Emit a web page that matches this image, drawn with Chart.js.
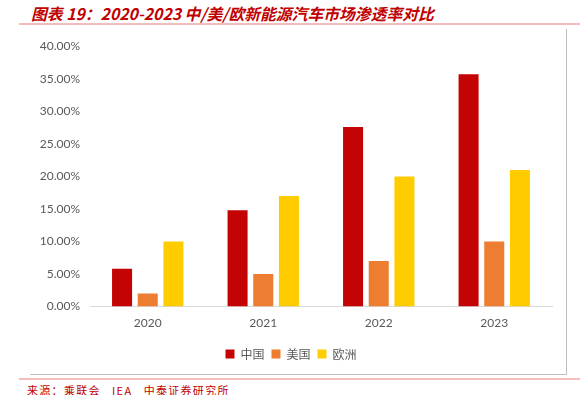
<!DOCTYPE html>
<html>
<head>
<meta charset="utf-8">
<script src="https://cdn.jsdelivr.net/npm/chart.js@4/dist/chart.umd.min.js"></script>
<style>
    body { margin: 0; background: #fff; }
    .page { position: relative; width: 587px; height: 395px; overflow: hidden; background: #fff; }
    .title {
        position: absolute; left: 31px; top: 2px;
        font-family: "Noto Sans CJK SC", sans-serif; font-size: 15.8px; font-weight: bold; font-style: italic;
        color: #c00000; white-space: nowrap;
    }
    .rule { position: absolute; left: 19px; width: 561px; height: 2px; background: #f4bcbc; }
    .box {
        position: absolute; left: 30px; top: 29px; width: 537px; height: 346px;
        border-right: 1px solid #bfbfbf; border-bottom: 1px solid #bfbfbf; box-sizing: border-box;
    }
    .box canvas { position: absolute; left: 0; top: 0; }
    .source {
        position: absolute; left: 27px; top: 382px;
        font-family: "Noto Sans CJK SC", sans-serif; font-size: 11px; color: #c00000; white-space: nowrap;
        letter-spacing: 1.3px;
    }
</style>
</head>
<body>
<div class="page">
    <div class="title">图表 19：2020-2023 中/美/欧新能源汽车市场渗透率对比</div>
    <div class="rule" style="top: 23px;"></div>
    <div class="box">
        <canvas id="penetrationChart" width="537" height="346"></canvas>
    </div>
    <div class="rule" style="top: 378px;"></div>
    <div class="source">来源：乘联会&nbsp;&nbsp;&nbsp;IEA&nbsp;&nbsp;&nbsp;中泰证券研究所</div>
</div>
<script>
// years on the x axis
const years = ["2020", "2021", "2022", "2023"];

// penetration rate of new energy vehicles, in %
const chinaRate = [5.8, 14.8, 27.6, 35.7];
const usRate = [2.0, 5.0, 7.0, 10.0];
const europeRate = [10.0, 17.0, 20.0, 21.0];

const seriesNames = ["中国", "美国", "欧洲"];
const seriesColors = ["#c40404", "#ed7d31", "#ffcc00"];

document.addEventListener("DOMContentLoaded", function () {
    const ctx = document.getElementById("penetrationChart").getContext("2d");
    const values = [chinaRate, usRate, europeRate];

    new Chart(ctx, {
        type: "bar",
        data: {
            labels: years,
            datasets: seriesNames.map((name, i) => ({
                label: name,
                data: values[i],
                backgroundColor: seriesColors[i],
                borderWidth: 0,
                categoryPercentage: 0.667,
                barPercentage: 0.78
            }))
        },
        options: {
            responsive: false,
            animation: false,
            layout: { padding: { top: 16, right: 15, bottom: 5, left: 0 } },
            plugins: {
                tooltip: { enabled: false },
                legend: {
                    position: "bottom",
                    labels: {
                        boxWidth: 9,
                        boxHeight: 9,
                        padding: 7,
                        color: "#595959",
                        font: { family: "'Noto Sans CJK SC', sans-serif", size: 12 }
                    }
                }
            },
            scales: {
                x: {
                    grid: { display: false, drawTicks: false },
                    border: { display: true, color: "#d9d9d9", width: 1 },
                    // leave some room between the year labels and the legend
                    afterFit: function (scale) { scale.height += 2; },
                    ticks: {
                        padding: 9,
                        color: "#595959",
                        font: { family: "Lato, sans-serif", size: 12 }
                    }
                },
                y: {
                    min: 0,
                    max: 40,
                    grid: { display: false, drawTicks: false },
                    border: { display: false },
                    afterFit: function (scale) { scale.width = 60; },
                    ticks: {
                        stepSize: 5,
                        padding: 10,
                        color: "#595959",
                        font: { family: "Lato, sans-serif", size: 12 },
                        callback: function (value) { return value.toFixed(2) + "%"; }
                    }
                }
            }
        }
    });
});
</script>
</body>
</html>
